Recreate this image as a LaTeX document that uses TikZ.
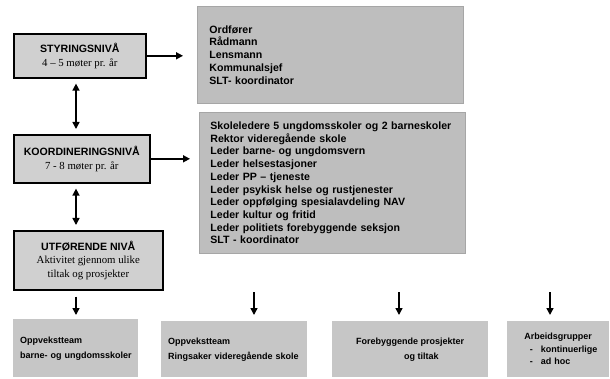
\documentclass[tikz,border=0pt]{standalone}
\usepackage{fontspec}
\setmainfont{Liberation Serif}
\setsansfont{Liberation Sans}
\usetikzlibrary{arrows.meta,positioning}
\definecolor{levelgray}{HTML}{D0D0D0}
\definecolor{membergray}{HTML}{BEBEBE}
\definecolor{teamgray}{HTML}{C6C6C6}
\definecolor{edgegray}{HTML}{A6A6A6}
\tikzset{
  levelbox/.style={
    draw=black,
    line width=1.6pt,
    fill=levelgray,
    anchor=north west,
    align=center,
    inner sep=2pt,
    font=\fontsize{10.8}{14.5}\selectfont
  },
  memberbox/.style={
    draw=edgegray,
    line width=0.8pt,
    fill=membergray,
    anchor=north west,
    align=left,
    minimum width=266pt,
    text width=252pt,
    inner xsep=7pt,
    inner ysep=4pt,
    font=\sffamily\bfseries\fontsize{10.6}{12.7}\selectfont
  },
  teambox/.style={
    fill=teamgray,
    anchor=north west,
    align=left,
    inner xsep=8pt,
    font=\sffamily\bfseries\fontsize{9}{15}\selectfont
  },
  flowarrow/.style={
    -{Triangle[length=7pt,width=7pt]},
    line width=1.5pt,
    draw=black
  },
  linkarrow/.style={
    {Triangle[length=7pt,width=7pt]}-{Triangle[length=7pt,width=7pt]},
    line width=1.5pt,
    draw=black,
    shorten <=5pt,
    shorten >=5pt
  }
}
\newcommand{\leveltitle}[1]{{\sffamily\bfseries\fontsize{10.6}{14.5}\selectfont #1}}

\begin{document}
\begin{tikzpicture}[x=1pt,y=-1pt]
    \useasboundingbox[fill=white] (0,0) rectangle (610,379);

    % levels
    \node[levelbox, minimum width=132pt, minimum height=44pt] (styring) at (13,33) {
        \leveltitle{STYRINGSNIVÅ}\\
        4 – 5 møter pr. år
    };
    \node[levelbox, minimum width=136pt, minimum height=48pt] (koord) at (13,134) {
        \leveltitle{KOORDINERINGSNIVÅ}\\
        7 - 8 møter pr. år
    };
    \node[levelbox, minimum width=149pt, minimum height=59pt,
          font=\fontsize{10.8}{13.5}\selectfont] (utfor) at (13,230) {
        \leveltitle{UTFØRENDE NIVÅ}\\
        Aktivitet gjennom ulike\\
        tiltak og prosjekter
    };

    % members
    \node[memberbox, minimum height=97pt] (styremedl) at (197,6) {
        \hspace*{5pt}Ordfører\\
        \hspace*{5pt}Rådmann\\
        \hspace*{5pt}Lensmann\\
        \hspace*{5pt}Kommunalsjef\\
        \hspace*{5pt}SLT- koordinator
    };
    \node[memberbox, minimum height=141pt] (koordmedl) at (199,112) {
        \hspace*{4pt}Skoleledere 5 ungdomsskoler og 2 barneskoler\\
        \hspace*{4pt}Rektor videregående skole\\
        \hspace*{4pt}Leder barne- og ungdomsvern\\
        \hspace*{4pt}Leder helsestasjoner\\
        \hspace*{4pt}Leder PP – tjeneste\\
        \hspace*{4pt}Leder psykisk helse og rustjenester\\
        \hspace*{4pt}Leder oppfølging spesialavdeling NAV\\
        \hspace*{4pt}Leder kultur og fritid\\
        \hspace*{4pt}Leder politiets forebyggende seksjon\\
        \hspace*{4pt}SLT - koordinator
    };

    % teams
    \node[teambox, minimum width=125pt, minimum height=58pt, text width=117pt,
          inner xsep=4pt] (team1) at (13,319) {
        \hspace*{3pt}Oppvekstteam\\
        \hspace*{3pt}barne- og ungdomsskoler
    };
    \node[teambox, minimum width=146pt, minimum height=56pt, text width=136pt,
          inner xsep=5pt] (team2) at (161,321) {
        \hspace*{2pt}Oppvekstteam\\
        \hspace*{2pt}Ringsaker videregående skole
    };
    \node[teambox, minimum width=156pt, minimum height=56pt, align=center] (team3) at (332,321) {
        Forebyggende prosjekter\\
        \hspace*{2.5em}og tiltak
    };
    \node[teambox, minimum width=102pt, minimum height=56pt, text width=82pt,
          inner xsep=10pt, font=\sffamily\bfseries\fontsize{9}{12.5}\selectfont] (team4) at (507,321) {
        \hspace*{0.8em}Arbeidsgrupper\\
        \hspace*{1.4em}-\hspace{0.9em}kontinuerlige\\
        \hspace*{1.4em}-\hspace{0.9em}ad hoc
    };

    \coordinate (spine) at (76,0);
    \coordinate (drop2) at (254,292);
    \coordinate (drop3) at (399,292);
    \coordinate (drop4) at (550,292);

    \draw[flowarrow, shorten >=14pt] (styring) -- (styring -| styremedl.west);
    \draw[flowarrow, shorten >=9pt] (koord) -- (koord -| koordmedl.west);
    \draw[linkarrow] (styring.south -| spine) -- (koord.north -| spine);
    \draw[linkarrow] (koord.south -| spine) -- (utfor.north -| spine);

    \draw[flowarrow, shorten <=6pt, shorten >=4pt] (utfor.south -| spine) -- (team1.north -| spine);
    \draw[flowarrow, shorten >=6pt] (drop2) -- (team2.north -| drop2);
    \draw[flowarrow, shorten >=6pt] (drop3) -- (team3.north -| drop3);
    \draw[flowarrow, shorten >=6pt] (drop4) -- (team4.north -| drop4);
\end{tikzpicture}
\end{document}
